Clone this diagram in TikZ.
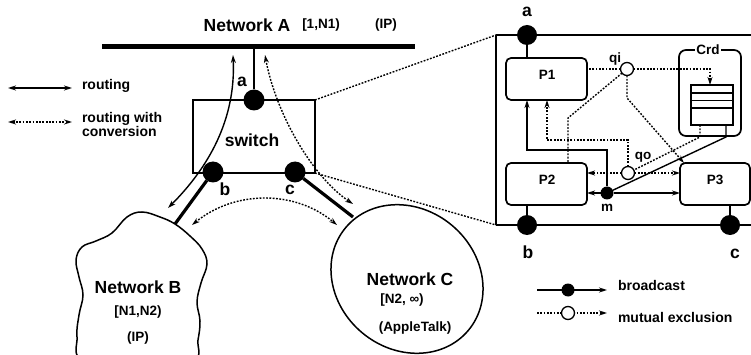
\documentclass[tikz,border=0pt]{standalone}
\usepackage{fontspec}
\setmainfont{Liberation Sans}
\usetikzlibrary{arrows.meta,shapes.geometric}
\begin{document}
\begin{tikzpicture}[x=1pt,y=-1pt,
  every node/.style={inner sep=0pt, outer sep=0pt},
  ln/.style={line width=1.4pt},
  dl/.style={line width=1.4pt, dash pattern=on 1.8pt off 1.5pt},
  tip/.style={-{Stealth[length=8pt,width=5pt]}},
  dtip/.style={{Stealth[length=8pt,width=5pt]}-{Stealth[length=8pt,width=5pt]}},
  bigdot/.style={circle, fill=black, minimum size=21pt},
  smdot/.style={circle, fill=black, minimum size=13pt},
  opdot/.style={circle, draw, fill=white, line width=1.3pt, minimum size=13pt},
  ttl/.style={font=\fontsize{17.5}{19}\selectfont\bfseries},
  sub/.style={font=\fontsize{13.5}{15}\selectfont\bfseries},
  lbl/.style={font=\fontsize{14}{14}\selectfont\bfseries},
  pbox/.style={draw, rounded corners=5pt, line width=1.7pt},
]
\useasboundingbox (0,0) rectangle (751,355);
\clip (0,0) rectangle (751,355);

% ---- Network A
\node[ttl] (tA) at (247,25) {Network A};
\node[sub] (tA2) at (321,25) {[1,N1)};
\node[sub] (tA3) at (386,25) {(IP)};
\coordinate (barL) at (102,47);
\coordinate (barR) at (415,47);
\draw[line width=5pt] (barL) -- (barR);

% ---- left legend
\coordinate (l1a) at (8,88); \coordinate (l1b) at (72,88);
\draw[ln,dtip] (l1a) -- (l1b);
\node[lbl,anchor=west] (lr) at (82,86) {routing};
\coordinate (l2a) at (8,122); \coordinate (l2b) at (72,122);
\draw[dl,dtip] (l2a) -- (l2b);
\node[lbl,anchor=west,align=left] (lrc) at (82,124) {routing with\\conversion};

% ---- switch
\node[draw, line width=1.7pt, minimum width=122pt, minimum height=73pt] (sw) at (254,136.5) {};
\node[ttl] (swt) at (252,140) {switch};
\node[bigdot] (sa) at (254,100) {};
\node[bigdot] (sb) at (213,172) {};
\node[bigdot] (sc) at (295,172) {};
\node[ttl] (la) at (242,82) {a};
\node[ttl] (lb) at (225,189) {b};
\node[ttl] (lc) at (290,190) {c};
\draw[line width=1.7pt] (sa) -- (sa |- barL);

% ---- Network B (cloud)
\draw[line width=1.5pt] plot[smooth cycle, tension=0.65] coordinates {
 (175,224) (190,236) (202,249) (207,264) (201,283) (197,302) (200,321) (198,340)
 (193,362) (140,378) (83,362) (77,337) (79,315) (83,295) (79,277) (76,260)
 (82,247) (96,241) (112,233) (127,217) (142,212) (160,217)};
\node[ttl] (tB) at (138,287) {Network B};
\node[sub] (tB2) at (138,312) {[N1,N2)};
\node[sub] (tB3) at (138,338) {(IP)};

% ---- Network C (ellipse)
\node[draw, ellipse, line width=1.5pt, minimum width=160pt, minimum height=140pt, rotate=-40] (netC) at (407,279) {};
\node[ttl] (tC) at (410,279) {Network C};
\node[sub] (tC2) at (402,300) {[N2, ∞)};
\node[sub] (tC3) at (415,328) {(AppleTalk)};

% ---- thick links
\coordinate (bj) at (175,224);
\coordinate (cj) at (353,217);
\draw[line width=3.2pt] (sb) -- (bj);
\draw[line width=3.2pt] (sc) -- (cj);

% ---- routing arrows
\coordinate (r1) at (168,208); \coordinate (r2) at (233,55);
\draw[ln,dtip] (r1) .. controls (208,168) and (236,120) .. (r2);
\coordinate (c1) at (265,55); \coordinate (c2) at (353,204);
\draw[dl,dtip] (c1) .. controls (275,110) and (310,175) .. (c2);
\coordinate (bc1) at (192,225); \coordinate (bc2) at (337,225);
\draw[dl,dtip] (bc1) .. controls (235,190) and (295,190) .. (bc2);

% ---- zoom lines
\coordinate (bTL) at (496,35); \coordinate (bBL) at (496,225);
\coordinate (bTR) at (760,35); \coordinate (bBR) at (760,225);
\draw[dl] (sw.north east) -- (bTL);
\draw[dl] (sw.south east) -- (bBL);

% ---- right box
\draw[line width=2.2pt] (bTL) -- (bTR);
\draw[line width=1.7pt] (bTL) -- (bBL);
\draw[line width=2.7pt] (bBL) -- (bBR);

\node[pbox, minimum width=81pt, minimum height=42pt] (P1) at (546.5,79) {};
\node[pbox, minimum width=81pt, minimum height=42pt] (P2) at (546.5,184) {};
\node[pbox, minimum width=70pt, minimum height=42pt] (P3) at (715,184) {};
\node[sub] (tP1) at (547,75) {P1};
\node[sub] (tP2) at (547,180) {P2};
\node[sub] (tP3) at (715,180) {P3};

\node[pbox, rounded corners=7pt, minimum width=62pt, minimum height=86pt] (crd) at (710,93) {};
\node[sub, fill=white, inner sep=1pt] (crdt) at (708,50) {Crd};
\node[draw, ln, minimum width=42pt, minimum height=40pt] (queue) at (712,105) {};
\draw[ln] (queue.west |- 0,93) -- (queue.east |- 0,93);
\draw[ln] (queue.west |- 0,100.5) -- (queue.east |- 0,100.5);
\draw[ln] (queue.west |- 0,108) -- (queue.east |- 0,108);

\node[bigdot, minimum size=20pt] (ra) at (527,35) {};
\node[bigdot, minimum size=20pt] (rb) at (527,225) {};
\node[bigdot, minimum size=20pt] (rc) at (730,225) {};
\node[ttl] (lra) at (527,12) {a};
\node[ttl] (lrb) at (528,252) {b};
\node[ttl] (lrc) at (735,254) {c};
\draw[ln] (ra) -- (ra |- P1.north);
\draw[ln] (rb) -- (rb |- P2.south);
\draw[ln] (rc) -- (rc |- P3.south);

\node[opdot] (qi) at (627,69) {};
\node[opdot] (qo) at (628,173) {};
\node[smdot] (m) at (607,193) {};
\node[sub] (lqi) at (615,59) {qi};
\node[sub] (lqo) at (643,157) {qo};
\node[sub] (lm) at (607,208) {m};

\draw[dl] (qi) -- (qi -| P1.east);
\coordinate (qin) at (710,69);
\draw[dl,tip] (qi) -- (qin) -- (queue.north -| qin);
\coordinate (qd1) at (700,125); \coordinate (qd2) at (700,137);
\draw[dl] (qd1) -- (qd2) -- (qo);
\coordinate (qs1) at (726,125); \coordinate (qs2) at (726,137);
\draw[ln] (qs1) -- (qs2) -- (m);
\coordinate (k1) at (568,118);
\draw[dl] (qi) -- (k1) -- (k1 |- P2.north);
\coordinate (k2) at (627,98); \coordinate (k3) at (684,163);
\draw[dl,tip] (qi) -- (k2) -- (k3);
\coordinate (k4) at (628,140); \coordinate (k5) at (547,140);
\draw[dl,tip] (qo) -- (k4) -- (k5) -- (k5 |- P1.south);
\coordinate (k6) at (607,150); \coordinate (k7) at (527,150);
\draw[ln,tip] (m) -- (k6) -- (k7) -- (k7 |- P1.south);
\draw[dl,tip] (qo) -- (qo -| P2.east);
\draw[dl,tip] (qo) -- (qo -| P3.west);
\draw[ln,tip] (m) -- (m -| P2.east);
\draw[ln,tip] (m) -- (m -| P3.west);

% ---- right legend
\coordinate (bl1) at (537,290); \coordinate (bl2) at (607,290);
\draw[ln,tip] (bl1) -- (bl2);
\node[smdot] (bld) at (568,290) {};
\node[lbl,anchor=west] (blt) at (618,285) {broadcast};
\coordinate (ml1) at (537,313); \coordinate (ml2) at (607,313);
\draw[dl,tip] (ml1) -- (ml2);
\node[opdot] (mld) at (568,313) {};
\node[lbl,anchor=west] (mlt) at (618,317) {mutual exclusion};
\end{tikzpicture}
\end{document}
